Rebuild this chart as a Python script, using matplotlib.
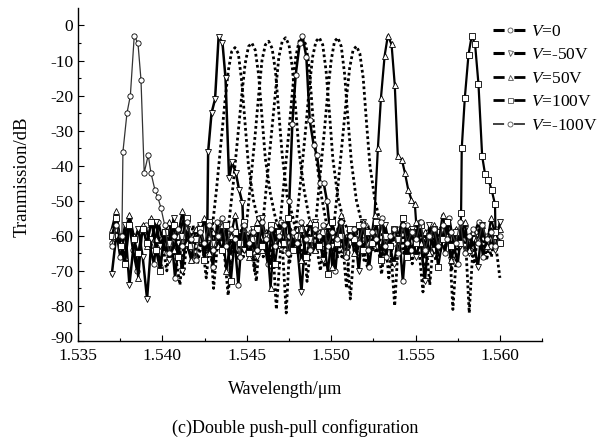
import matplotlib
matplotlib.use('Agg')
import matplotlib.pyplot as plt
import matplotlib.transforms as mtransforms
from matplotlib.lines import Line2D
import numpy as np

plt.rcParams['font.family'] = ['Liberation Serif', 'DejaVu Serif']
plt.rcParams['mathtext.fontset'] = 'custom'
plt.rcParams['mathtext.it'] = 'Liberation Serif:italic'
plt.rcParams['mathtext.rm'] = 'Liberation Serif'
plt.rcParams['axes.unicode_minus'] = False

# noise floor of each trace (dB), sampled evenly over 1.537 - 1.560 um
noise_0 = [-62, -58, -66, -60, -55, -64, -70, -59, -57, -63, -68, -56,
           -61, -65, -58, -72, -60, -55, -63, -67, -59, -57, -64, -61,
           -69, -56, -62, -58, -66, -60, -74, -57, -63, -59, -65, -55,
           -61, -68, -58, -62, -56, -64, -60, -71, -57, -63, -59, -66,
           -61, -55, -67, -58, -62, -70, -56, -64, -60, -58, -65, -61,
           -57, -69, -59, -63, -55, -66, -60, -62, -58, -73, -57, -64,
           -61, -56, -67, -59, -63, -60, -58, -65, -55, -62, -68, -57,
           -61, -64, -59, -56, -66, -60, -63, -58, -62]
noise_m50 = [-71, -60, -64, -57, -74, -62, -58, -66, -78, -61, -56, -63,
             -59, -67, -55, -62, -70, -58, -64, -60, -57, -65, -61, -68,
             -56, -63, -59, -72, -60, -57, -64, -62, -58, -66, -55, -61,
             -69, -59, -63, -57, -65, -60, -62, -76, -58, -64, -56, -61,
             -67, -59, -63, -60, -57, -66, -62, -58, -70, -56, -64, -61,
             -59, -65, -57, -63, -68, -60, -55, -62, -58, -66, -61, -73,
             -57, -64, -59, -62, -56, -67, -60, -63, -58, -65, -61, -69,
             -57, -62, -59, -64, -56]
noise_50 = [-58, -53, -62, -66, -54, -60, -72, -57, -63, -55, -61, -68,
            -59, -56, -64, -60, -53, -62, -67, -58, -61, -55, -65, -59,
            -63, -57, -70, -60, -54, -62, -58, -66, -61, -56, -64, -59,
            -75, -57, -62, -60, -55, -63, -58, -67, -61, -56, -64, -59,
            -62, -57, -69, -60, -54, -63, -58, -65, -61, -56, -62, -59,
            -66, -57, -63, -60, -55, -64, -58, -71, -61, -56, -62, -59,
            -65, -57, -63, -54, -60, -67, -58, -62, -56, -64, -59, -61,
            -57, -63, -55, -60, -58]
noise_100 = [-60, -55, -63, -68, -57, -61, -65, -58, -62, -56, -64, -70,
             -59, -62, -57, -66, -60, -55, -63, -61, -58, -67, -56, -62,
             -60, -64, -57, -73, -59, -62, -56, -65, -61, -58, -63, -60,
             -57, -68, -59, -62, -55, -64, -60, -58, -66, -61, -57, -63,
             -59, -71, -56, -62, -60, -65, -58, -61, -57, -64, -59, -62,
             -56, -67, -60, -63, -58, -61, -55, -66, -59, -62, -57, -64,
             -60, -58, -69, -61, -56, -63, -59, -62, -57, -65, -60, -58,
             -63, -56, -61, -59, -62]
noise_m100 = [-63, -57, -60, -55, -62, -66, -58, -61, -56, -64, -59, -62,
              -57, -65, -60, -58, -63, -56, -61, -67, -59, -62, -57, -64,
              -60, -55, -63, -58, -61, -66, -57, -62, -59, -64, -56, -61,
              -58, -63, -60, -57, -65, -59, -62, -56, -61, -64, -58, -60,
              -57, -63, -59, -61, -56, -66, -60, -58, -62, -57, -64, -59,
              -61, -56, -63, -60, -58, -65, -57, -62, -59, -61, -56, -64,
              -60, -58, -63, -57, -61, -59, -62, -56, -65, -60, -58, -62,
              -57, -61, -59, -63, -60]

# resonance peaks (wavelength um, dB)
peak_0_x = [1.54752, 1.54770, 1.54790, 1.54814, 1.54830, 1.54853, 1.54873,
            1.54896, 1.54916, 1.54936, 1.54956, 1.54975]
peak_0_y = [-50, -28, -14, -5, -3, -9, -27, -34, -37, -45, -45, -50]
peak_m50_x = [1.54265, 1.54271, 1.54291, 1.54312, 1.54333, 1.54356, 1.54374,
              1.54395, 1.54413, 1.54435, 1.54455, 1.54474]
peak_m50_y = [-62, -36, -25, -21, -3.2, -5, -15, -43.5, -39, -42, -47, -50.6]
peak_50_x = [1.55257, 1.55277, 1.55295, 1.55317, 1.55336, 1.55358, 1.55377,
             1.55395, 1.55419, 1.55437, 1.55457, 1.55476, 1.55496]
peak_50_y = [-54, -35, -20.7, -8.6, -2.9, -5.4, -17, -37.3, -38.3, -42, -46.9,
             -49.7, -51]
peak_100_x = [1.55770, 1.55774, 1.55792, 1.55814, 1.55833, 1.55853, 1.55873,
              1.55895, 1.55912, 1.55932, 1.55951, 1.55971]
peak_100_y = [-53.5, -35, -20.7, -8.3, -2.9, -5.4, -16.7, -37.3, -42.4, -44,
              -46.9, -51]
peak_m100_x = [1.53760, 1.53766, 1.53790, 1.53810, 1.53833, 1.53855, 1.53873,
               1.53892, 1.53916, 1.53932, 1.53956, 1.53973, 1.53991]
peak_m100_y = [-60, -36, -25, -20, -3, -5, -15.5, -42, -37, -42, -47, -49, -52]

# dotted traces (unlabelled)
dot_noise_a = [-62, -70, -58, -66, -74, -60, -64, -57, -68, -61, -72, -59,
               -65, -56, -63, -77, -60, -67, -58, -64, -61, -70, -57, -66,
               -62, -59, -81, -63, -58, -68, -60, -65, -57, -73, -61, -64,
               -59, -69, -56, -62, -66, -60, -75, -58, -63, -61, -67, -57,
               -64, -60, -71, -59, -62, -80, -58, -65, -61, -68, -57, -63,
               -60, -74, -59, -66, -62, -58, -70, -61, -64, -57, -82, -60,
               -63, -59, -67, -58, -62, -72]
dot_noise_b = [-66, -59, -63, -71, -58, -62, -67, -60, -64, -57, -75, -61,
               -65, -58, -69, -62, -59, -66, -60, -63, -73, -57, -62, -68,
               -59, -64, -61, -82, -58, -63, -60, -67, -57, -65, -62, -70,
               -59, -61, -64, -58, -66, -60, -78, -62, -57, -63, -69, -59,
               -65, -61, -58, -72, -60, -64, -57, -66, -62, -59, -63, -76,
               -58, -61, -67, -60, -64, -57, -81, -62, -59, -65, -60, -68,
               -58, -63, -61, -66, -59, -62]
dot_centers = [1.5443, 1.5453, 1.5463, 1.5473, 1.5483, 1.5493, 1.5504, 1.5515]
dot_offsets = [-0.0014, -0.0011, -0.0008, -0.0006, -0.0004, -0.0002, 0.0,
               0.0002, 0.0004, 0.0006, 0.0008, 0.0011, 0.0014, 0.0018]
dot_peaks = [
    [-60, -47, -32, -22, -13, -7.5, -6.3, -8, -16, -28, -40, -50, -56, -62],
    [-58, -45, -30, -20, -11, -6, -5, -7, -14, -26, -38, -48, -55, -60],
    [-61, -46, -31, -20, -10, -5.5, -4.5, -6.5, -13, -25, -37, -49, -54, -63],
    [-59, -44, -29, -19, -9, -4.5, -3.5, -5.5, -12, -24, -36, -47, -55, -61],
    [-60, -45, -30, -19, -9, -4.5, -3.5, -5.5, -12, -25, -37, -48, -56, -62],
    [-58, -44, -29, -18, -9, -4.5, -3.5, -5.5, -13, -25, -38, -49, -55, -60],
    [-61, -45, -30, -19, -10, -4.5, -3.5, -6, -14, -27, -39, -50, -56, -63],
    [-60, -46, -31, -21, -12, -7, -5.9, -8, -15, -28, -40, -50, -56, -61],
]

labels = ['$V$=0', '$V$=-50V', '$V$=50V', '$V$=100V', '$V$=-100V']


def merge(noise, px, py, x0=1.537, x1=1.560):
    xs = np.linspace(x0, x1, len(noise))
    ys = np.array(noise, dtype=float)
    keep = (xs < px[0]) | (xs > px[-1])
    x = np.concatenate([xs[keep], px])
    y = np.concatenate([ys[keep], py])
    order = np.argsort(x)
    return x[order], y[order]


fig = plt.figure(figsize=(6.05, 4.42), dpi=100)
ax = fig.add_axes([0.129, 0.2285, 0.767, 0.7535])

# dotted traces
dstyle = dict(color='black', lw=2.0, linestyle=(0, (1, 1)))
ax.plot(np.linspace(1.5400, 1.5600, len(dot_noise_a)), dot_noise_a, **dstyle)
ax.plot(np.linspace(1.5405, 1.5600, len(dot_noise_b)), dot_noise_b, **dstyle)
for c, yy in zip(dot_centers, dot_peaks):
    ax.plot(c + np.array(dot_offsets), yy, **dstyle)

series = [
    (noise_0, peak_0_x, peak_0_y, 'o', 1.8, 'black'),
    (noise_m50, peak_m50_x, peak_m50_y, 'v', 1.8, 'black'),
    (noise_50, peak_50_x, peak_50_y, '^', 1.6, 'black'),
    (noise_100, peak_100_x, peak_100_y, 's', 1.6, 'black'),
    (noise_m100, peak_m100_x, peak_m100_y, 'o', 0.9, '#333333'),
]
handles = []
for (nz, px, py, mk, lw, col), lab in zip(series, labels):
    x, y = merge(nz, px, py)
    ax.plot(x, y, color=col, lw=lw, marker=mk, markersize=3.8,
            markerfacecolor='white', markeredgecolor='black',
            markeredgewidth=0.6)
    # legend proxy: dash - marker - dash
    hw = lw + 0.4
    handles.append(Line2D([], [], color=col, lw=hw,
                          linestyle=(0, (8.0 / hw, 7.0 / hw)),
                          marker=mk, markersize=3.6, markerfacecolor='white',
                          markeredgecolor='#555555', markeredgewidth=0.6,
                          label=lab))

ax.set_xlim(1.535, 1.5625)
ax.set_ylim(-90, 5)
ax.set_xticks([1.535, 1.540, 1.545, 1.550, 1.555, 1.560])
ax.set_xticklabels(['1.535', '1.540', '1.545', '1.550', '1.555', '1.560'])
ax.set_xticks(np.arange(1.5375, 1.5626, 0.005), minor=True)
ax.set_yticks(np.arange(-90, 1, 10))
ax.set_yticks(np.arange(-85, 5, 10), minor=True)
ax.tick_params(which='both', direction='in', labelsize=12.5, width=0.8)
ax.tick_params(which='major', length=4)
ax.tick_params(which='minor', length=2.5)
ax.tick_params(axis='x', pad=5)
for s in ['top', 'right']:
    ax.spines[s].set_visible(False)
for s in ['left', 'bottom']:
    ax.spines[s].set_linewidth(1.0)
# nudge the -90 label up a little so it clears 1.535
lift = mtransforms.ScaledTranslation(0, 3 / 72, fig.dpi_scale_trans)
for t in ax.get_yticklabels():
    if t.get_text() == '-90':
        t.set_transform(t.get_transform() + lift)

fig.text(0.036, 0.60, 'Tranmission/dB', rotation=90, ha='center',
         va='center', fontsize=13.5)
fig.text(0.471, 0.118, 'Wavelength/μm', ha='center', va='center',
         fontsize=13)
fig.text(0.488, 0.032, '(c)Double push-pull configuration', ha='center',
         va='center', fontsize=13)

fig.legend(handles=handles, loc='upper left', bbox_to_anchor=(0.803, 0.962),
           frameon=False, fontsize=12.5, handlelength=2.0, handletextpad=0.2,
           labelspacing=0.42, borderaxespad=0)

fig.savefig('out.png', dpi=100)
